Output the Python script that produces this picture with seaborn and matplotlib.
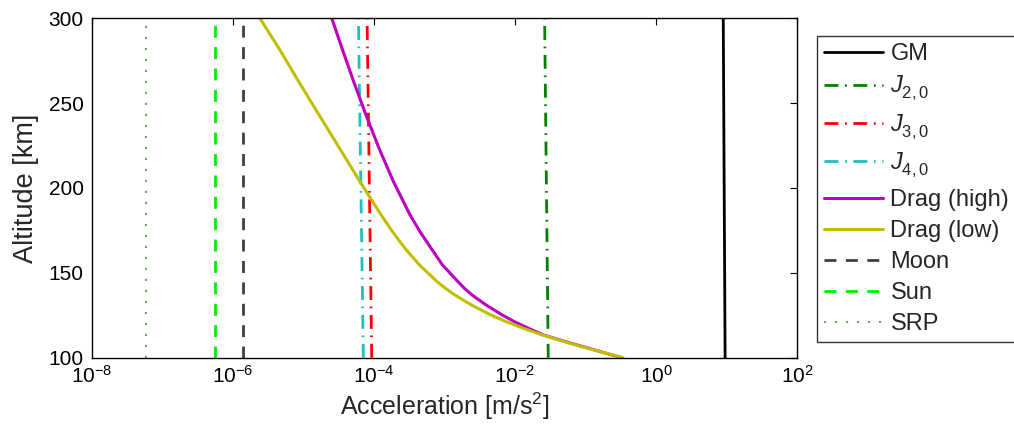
import matplotlib
matplotlib.use("Agg")
import matplotlib.pyplot as plt
import seaborn as sns
import pandas as pd

alt = [100, 105.5, 108.4, 113.4, 117.3, 121.2, 125.1, 131.0, 136.9, 140.9, 144.8,
       154.6, 164.4, 174.3, 184.1, 203.7, 223.4, 243.0, 262.7, 282.3, 300]
# log10 of acceleration [m/s^2]
drag_high_log = [-0.49, -0.95, -1.20, -1.60, -1.81, -2.01, -2.18, -2.41, -2.61, -2.72, -2.81,
                 -3.03, -3.19, -3.35, -3.49, -3.725, -3.93, -4.115, -4.29, -4.455, -4.60]
drag_low_log = [-0.47, -0.967, -1.214, -1.614, -1.883, -2.125, -2.34, -2.617, -2.853, -2.989, -3.106,
                -3.356, -3.562, -3.74, -3.90, -4.20, -4.49, -4.78, -5.07, -5.35, -5.62]

# almost constant terms: value at 100 km and at 300 km
alt_ends = [100, 300]
gm = [9.50, 8.94]
j2 = [0.0295, 0.0262]
j3 = [9.27e-5, 7.96e-5]
j4 = [7.05e-5, 6.0e-5]
moon = [1.38e-6, 1.38e-6]
sun = [5.5e-7, 5.5e-7]
srp = [5.8e-8, 5.8e-8]

sns.set_style("white")
plt.rcParams['font.family'] = ['Liberation Sans', 'DejaVu Sans']
plt.rcParams['mathtext.fontset'] = 'custom'
plt.rcParams['mathtext.rm'] = 'Liberation Sans'
plt.rcParams['mathtext.it'] = 'Liberation Sans:italic'
plt.rcParams['mathtext.bf'] = 'Liberation Sans:bold'

fig = plt.figure(figsize=(10.14, 4.32), dpi=100)
ax = fig.add_axes([0.0907, 0.172, 0.6955, 0.786])

dashdot = (5.0, 2.4, 0.6, 2.4)
dashed = (4.3, 3.4)
series = [
    ('GM', alt_ends, gm, 'black', '-', 2.0),
    (r'$J^{\ }_{2,0}$', alt_ends, j2, '#008000', dashdot, 2.0),
    (r'$J^{\ }_{3,0}$', alt_ends, j3, '#ff0000', dashdot, 2.0),
    (r'$J^{\ }_{4,0}$', alt_ends, j4, '#1fbfbf', dashdot, 2.0),
    ('Drag (high)', alt, [10 ** v for v in drag_high_log], '#bf00bf', '-', 2.2),
    ('Drag (low)', alt, [10 ** v for v in drag_low_log], '#bfbf00', '-', 2.2),
    ('Moon', alt_ends, moon, '#404040', dashed, 2.0),
    ('Sun', alt_ends, sun, '#00ee00', dashed, 2.0),
    ('SRP', alt_ends, srp, '#3c8c3c', (1.4, 5.8), 1.1),
]

for name, a, acc, col, ls, lw in series:
    df = pd.DataFrame({'acc': acc, 'alt': a})
    sns.lineplot(data=df, x='acc', y='alt', orient='y', estimator=None,
                 color=col, lw=lw, label=name, ax=ax)
    l = ax.get_lines()[-1]
    if isinstance(ls, tuple):
        l.set_dashes(ls)
    else:
        l.set_linestyle(ls)

ax.set_xscale('log')
ax.set_xlim(1e-8, 1e2)
ax.set_ylim(100, 300)
ax.set_xticks([1e-8, 1e-6, 1e-4, 1e-2, 1e0, 1e2])
ax.xaxis.set_minor_locator(matplotlib.ticker.NullLocator())
ax.set_yticks([100, 150, 200, 250, 300])
ax.tick_params(direction='in', length=5, width=0.8, top=True, right=True,
               labelsize=15, colors='black')
ax.tick_params(axis='x', pad=5)
ax.tick_params(axis='y', pad=6)
for s in ax.spines.values():
    s.set_color('black')
    s.set_linewidth(1.0)

ax.set_xlabel('Acceleration [m/s$^2$]', fontsize=18, labelpad=3)
ax.set_ylabel('Altitude [km]', fontsize=19.5, labelpad=7)

leg = ax.legend(loc='upper left', bbox_to_anchor=(0.806, 0.917),
                bbox_transform=fig.transFigure, fontsize=17, frameon=True,
                fancybox=False, edgecolor='black', handlelength=2.5,
                handletextpad=0.3, labelspacing=0.38, borderpad=0.3,
                borderaxespad=0)
leg.get_frame().set_linewidth(1.0)

fig.savefig('out.png', dpi=100)
